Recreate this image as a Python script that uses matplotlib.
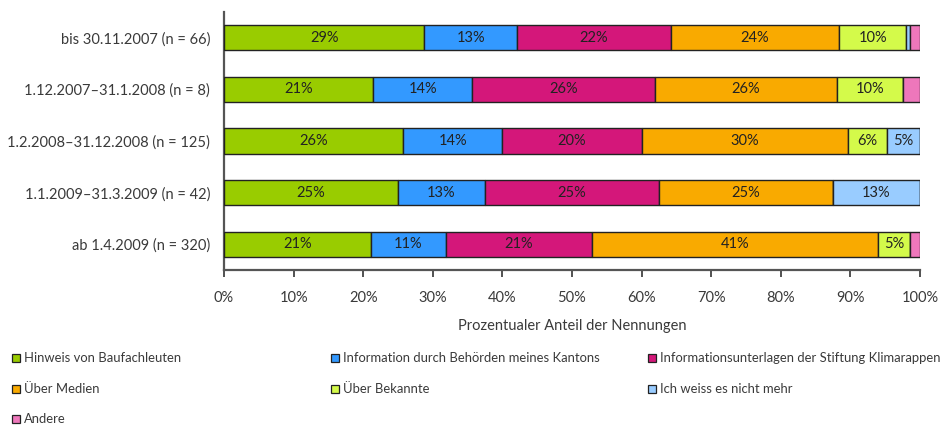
import matplotlib
matplotlib.use("Agg")
import matplotlib.pyplot as plt
from matplotlib.patches import Rectangle
import numpy as np

plt.rcParams["font.family"] = ["Lato", "DejaVu Sans"]

# periods (top to bottom)
periods = ["bis 30.11.2007 (n = 66)",
           "1.12.2007\u201331.1.2008 (n = 8)",
           "1.2.2008\u201331.12.2008 (n = 125)",
           "1.1.2009\u201331.3.2009 (n = 42)",
           "ab 1.4.2009 (n = 320)"]

# share of mentions in %, one list per answer
hinweis = [28.8, 21.4, 25.7, 25.0, 21.1]
behoerden = [13.3, 14.3, 14.3, 12.5, 10.8]
stiftung = [22.1, 26.2, 20.0, 25.0, 21.0]
medien = [24.2, 26.2, 29.6, 25.0, 41.1]
bekannte = [9.6, 9.5, 5.6, 0.0, 4.6]
weiss_nicht = [0.6, 0.0, 4.8, 12.5, 0.0]
andere = [1.4, 2.4, 0.0, 0.0, 1.4]

series = [hinweis, behoerden, stiftung, medien, bekannte, weiss_nicht, andere]
names = ["Hinweis von Baufachleuten",
         "Information durch Behörden meines Kantons",
         "Informationsunterlagen der Stiftung Klimarappen",
         "Über Medien",
         "Über Bekannte",
         "Ich weiss es nicht mehr",
         "Andere"]
colours = ["#99CC00", "#3399FF", "#D4177A", "#F9AA00", "#D4FA4A", "#99CCFF", "#EE77BB"]

TXT = "#3a3a3a"

fig = plt.figure(figsize=(9.52, 4.26), dpi=100)
ax = fig.add_axes([224/952, 1-270/426, (920-224)/952, (270-12)/426])

y = np.arange(len(periods))
left = np.zeros(len(periods))
for vals, col in zip(series, colours):
    vals = np.array(vals)
    ax.barh(y, vals, left=left, height=0.485, color=col, edgecolor="#222222", linewidth=1.0, zorder=3)
    for i, v in enumerate(vals):
        if v >= 4:
            ax.text(left[i] + v/2, y[i], "%d%%" % int(v + 0.5), ha="center", va="center",
                    fontsize=10.5, color="#222222", zorder=4)
    left += vals

ax.set_xlim(0, 100)
ax.set_ylim(len(periods) - 0.5, -0.5)
ax.set_yticks(y)
ax.set_yticklabels(periods, fontsize=10.5, color=TXT)
ax.tick_params(axis="y", length=0, pad=10)
ax.set_xticks(np.arange(0, 101, 10))
ax.set_xticklabels(["%d%%" % t for t in range(0, 101, 10)], fontsize=10.5, color=TXT)
ax.tick_params(axis="x", length=5, width=1.2, color="#333333", pad=10)
ax.set_xlabel("Prozentualer Anteil der Nennungen", fontsize=10.5, color=TXT, labelpad=10)
for s in ["top", "right"]:
    ax.spines[s].set_visible(False)
for s in ["left", "bottom"]:
    ax.spines[s].set_color("#555555")
    ax.spines[s].set_linewidth(1.6)

# legend, laid out by hand in rows of three
col_x = [12, 331, 648]
row_y = [358, 389, 419]
for k, (nm, col) in enumerate(zip(names, colours)):
    r, c = divmod(k, 3)
    x0 = col_x[c] / 952
    y0 = 1 - row_y[r] / 426
    fig.patches.append(Rectangle((x0, y0 - 4/426), 8/952, 8/426, transform=fig.transFigure,
                                 facecolor=col, edgecolor="#222222", linewidth=0.9))
    fig.text(x0 + 12/952, y0, nm, fontsize=9.4, color=TXT, va="center", ha="left")

fig.savefig("out.png", dpi=100)
